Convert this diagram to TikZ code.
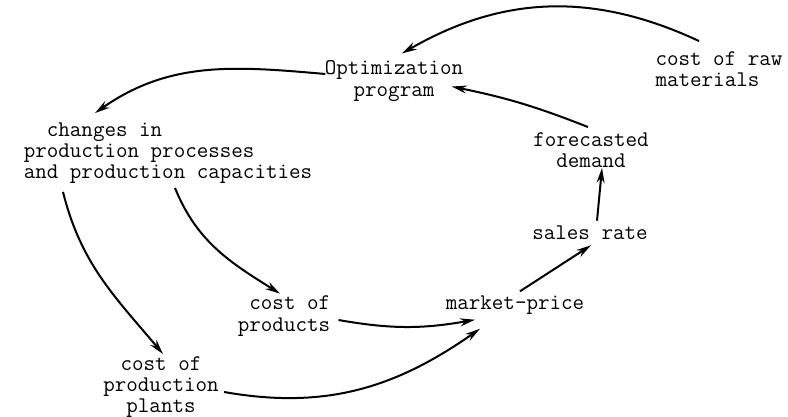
\documentclass[tikz,border=0pt]{standalone}
\usetikzlibrary{arrows.meta}

\begin{document}
\begin{tikzpicture}[x=0.5pt, y=-0.5pt,
    every node/.style={inner sep=0pt, font=\ttfamily\fontsize{11.2}{10.6}\selectfont},
    flow/.style={-{Stealth[length=7.5pt,width=4pt]}, line width=1pt}]
    \useasboundingbox (0,0) rectangle (788,417);
    \node (1) at (394,81) [align=center] {Optimization\\program};
    \node (2) at (719,69) [align=left] {cost of raw\\materials};
    \node (3) at (591,150) [align=center] {forecasted\\demand};
    \node (4) at (590,233) {sales rate};
    \node (5) at (515,305) {market-price};
    \node (6) at (284,316) [align=right] {cost of\\products};
    \node (7) at (161,387) [align=center] {cost of\\production\\plants};
    \node (8) at (168,153) [align=left] {\ \ changes in\\production processes\\and production capacities};
    \draw[flow] ([xshift=-10pt,yshift=5pt]2.north) to[out=155, in=30] ([xshift=4pt,yshift=3.5pt]1.north);
    \draw[flow] ([xshift=-1.5pt,yshift=2.5pt]3.north) to[bend right=5] ([xshift=-6pt,yshift=7.5pt]1.south east);
    \draw[flow] ([xshift=0.5pt,yshift=3.5pt]1.west) to[out=175, in=35] ([xshift=-36.5pt,yshift=4.5pt]8.north);
    \draw[flow] ([xshift=3.5pt,yshift=2.5pt]4.north) to ([xshift=5.5pt]3.south);
    \draw[flow] ([xshift=2.5pt,yshift=2pt]5.north) to ([xshift=0.5pt,yshift=-2.5pt]4.south);
    \draw[flow] ([xshift=4pt,yshift=-2pt]6.east) to[out=-10, in=190] ([xshift=-20pt,yshift=-2.5pt]5.south);
    \draw[flow] ([xshift=2.5pt,yshift=-2.5pt]7.east) to[out=-10, in=215] ([xshift=-17.5pt,yshift=-7pt]5.south);
    \draw[flow] ([xshift=3.5pt,yshift=-2pt]8.south) to[out=-68, in=148] ([xshift=-2pt,yshift=1pt]6.north);
    \draw[flow] ([xshift=-52.5pt,yshift=-4pt]8.south) to[out=-76, in=130] ([xshift=1pt,yshift=1pt]7.north);
\end{tikzpicture}
\end{document}
